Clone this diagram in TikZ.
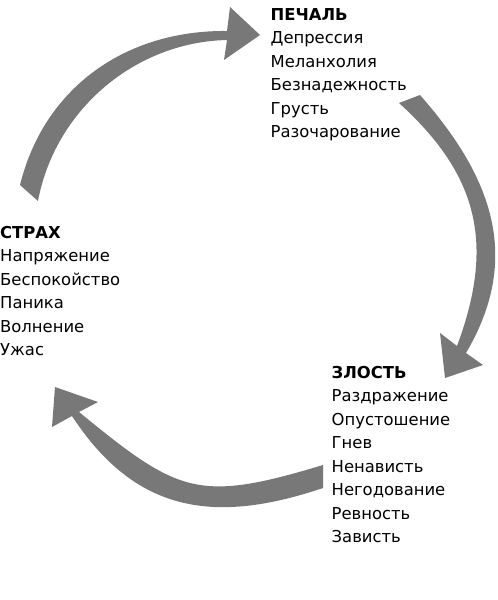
\documentclass[tikz,border=0pt]{standalone}
\usepackage{fontspec}
\setmainfont{DejaVu Sans}
\definecolor{bandgray}{HTML}{787878}
\begin{document}
\begin{tikzpicture}[x=1pt, y=-1pt,
    emotion/.style = {anchor=base west, align=left, inner sep=0pt,
                      font=\fontsize{16.4}{23.5}\selectfont},
    band/.style = {fill=bandgray, draw=none}]
                \useasboundingbox (0,0) rectangle (498,600);

                % Emotions (anchored at the baseline of the last line)

                \node (pechal) [emotion] at (270.5,137.5) {\textbf{ПЕЧАЛЬ}\\Депрессия\\Меланхолия\\Безнадежность\\Грусть\\Разочарование};
                \node (strakh) [emotion] at (0,355.5) {\textbf{СТРАХ}\\Напряжение\\Беспокойство\\Паника\\Волнение\\Ужас};
                \node (zlost) [emotion] at (331.5,542.5) {\textbf{ЗЛОСТЬ}\\Раздражение\\Опустошение\\Гнев\\Ненависть\\Негодование\\Ревность\\Зависть};

                % Arrows

                \fill[band] (20,185) .. controls (44,88) and (125,30) .. (227,31)
                    -- (230,7) -- (260,35) -- (224,60) -- (227,40)
                    .. controls (135,42) and (55,110) .. (38,201) -- cycle;

                \fill[band] (420,95) .. controls (492.6,177.5) and (522,258) .. (466,353)
                    -- (483,365) -- (445,378) -- (440,333) -- (457,346)
                    .. controls (494.8,244.5) and (478.9,175.4) .. (399,103) -- cycle;

                \fill[band] (323,488) .. controls (213.75,524.8) and (135.25,512.6) .. (72,416)
                    -- (52,427) -- (55,387) -- (98,402) -- (79,412)
                    .. controls (178.9,493.9) and (198.2,502.7) .. (323,465) -- cycle;
            \end{tikzpicture}
\end{document}
